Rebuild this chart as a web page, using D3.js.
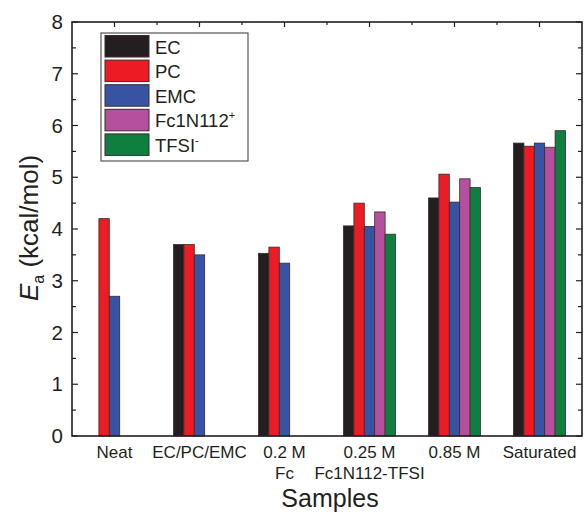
<!DOCTYPE html>
<html>
<head>
<meta charset="utf-8">
<script src="https://cdn.jsdelivr.net/npm/d3@7"></script>
<style>
  body { margin: 0; background: #fff; }
  svg text { font-family: "Liberation Sans", Arial, Helvetica, sans-serif; fill: #231f20; }
</style>
</head>
<body>
<svg width="587" height="512"></svg>
<script>
// sample groups on the x axis (two-line labels)
var samples = ["Neat", "EC/PC/EMC", "0.2 M", "0.25 M", "0.85 M", "Saturated"];
var sampleLines2 = ["", "", "Fc", "Fc1N112-TFSI", "", ""];
var series = ["EC", "PC", "EMC", "Fc1N112", "TFSI"];
var colors = ["#231f20", "#ed1c24", "#3953a4", "#b5509f", "#0f7f40"];

// activation energies, kcal/mol (null = not measured)
var ecVals   = [null, 3.70, 3.53, 4.06, 4.60, 5.66];
var pcVals   = [4.20, 3.70, 3.65, 4.50, 5.06, 5.60];
var emcVals  = [2.70, 3.50, 3.34, 4.05, 4.52, 5.66];
var fcVals   = [null, null, null, 4.33, 4.97, 5.58];
var tfsiVals = [null, null, null, 3.90, 4.80, 5.90];
var yTicks = [0, 1, 2, 3, 4, 5, 6, 7, 8];

var allVals = [ecVals, pcVals, emcVals, fcVals, tfsiVals];

var margin = {left: 72, top: 22, right: 5, bottom: 76};
var width = 587, height = 512;
var svg = d3.select("svg");

var x = d3.scaleBand()
    .domain(samples)
    .range([margin.left, width - margin.right])
    .padding(0);

var x1 = d3.scaleBand()
    .domain(series)
    .range([-26, 26]);

var y = d3.scaleLinear()
    .domain([0, 8])
    .range([height - margin.bottom, margin.top]);

var x0 = margin.left, xR = width - margin.right;
var yB = height - margin.bottom, yT = margin.top;

// bars
var bars = [];
samples.forEach(function(s, i) {
  series.forEach(function(k, j) {
    var v = allVals[j][i];
    if (v != null) bars.push({sample: s, key: k, value: v, color: colors[j]});
  });
});

svg.append("g").selectAll("rect")
  .data(bars)
  .enter()
  .append("rect")
    .attr("x", d => x(d.sample) + x.bandwidth() / 2 + x1(d.key))
    .attr("width", x1.bandwidth())
    .attr("y", d => y(d.value))
    .attr("height", d => y(0) - y(d.value))
    .attr("fill", d => d.color)
    .attr("stroke", "#3a2a2a")
    .attr("stroke-width", 0.8);

// frame
svg.append("rect")
    .attr("x", x0).attr("y", yT)
    .attr("width", xR - x0).attr("height", yB - yT)
    .attr("fill", "none")
    .attr("stroke", "#231f20")
    .attr("stroke-width", 1.6);

// left / right axes, ticks inward
var yMinor = d3.range(0.5, 8, 1);
var tickG = svg.append("g").attr("stroke", "#231f20").attr("stroke-width", 1.2);
yTicks.forEach(function(t) {
  tickG.append("line").attr("x1", x0).attr("x2", x0 + 6).attr("y1", y(t)).attr("y2", y(t));
  tickG.append("line").attr("x1", xR).attr("x2", xR - 6).attr("y1", y(t)).attr("y2", y(t));
});
yMinor.forEach(function(t) {
  tickG.append("line").attr("x1", x0).attr("x2", x0 + 4).attr("y1", y(t)).attr("y2", y(t));
  tickG.append("line").attr("x1", xR).attr("x2", xR - 4).attr("y1", y(t)).attr("y2", y(t));
});
// top axis ticks at group centres and midpoints
samples.forEach(function(s, i) {
  var c = x(s) + x.bandwidth() / 2;
  tickG.append("line").attr("x1", c).attr("x2", c).attr("y1", yT).attr("y2", yT + 5);
  if (i > 0) {
    tickG.append("line").attr("x1", x(s)).attr("x2", x(s)).attr("y1", yT).attr("y2", yT + 3);
  }
});

svg.append("g").selectAll("text")
  .data(yTicks)
  .enter()
  .append("text")
    .attr("x", x0 - 9)
    .attr("y", d => y(d) + 7)
    .attr("text-anchor", "end")
    .attr("font-size", 20.5)
    .text(d => d);

// x tick labels
var xl = svg.append("g").attr("font-size", 17).attr("text-anchor", "middle");
samples.forEach(function(s, i) {
  var c = x(s) + x.bandwidth() / 2;
  xl.append("text").attr("x", c).attr("y", 458).text(s);
  if (sampleLines2[i]) xl.append("text").attr("x", c).attr("y", 479).text(sampleLines2[i]);
});

// axis titles
svg.append("text")
    .attr("x", 330).attr("y", 507)
    .attr("text-anchor", "middle")
    .attr("font-size", 25)
    .text("Samples");

var yl = svg.append("text")
    .attr("transform", "translate(38,228) rotate(-90)")
    .attr("text-anchor", "middle")
    .attr("font-size", 26);
yl.append("tspan").attr("font-style", "italic").text("E");
yl.append("tspan").attr("font-size", 16).attr("dy", 6).text("a");
yl.append("tspan").attr("dy", -6).text(" (kcal/mol)");

// legend
var legLabels = [["EC", ""], ["PC", ""], ["EMC", ""], ["Fc1N112", "+"], ["TFSI", "-"]];
var leg = svg.append("g");
leg.append("rect")
    .attr("x", 101).attr("y", 33)
    .attr("width", 147).attr("height", 128)
    .attr("fill", "#fff")
    .attr("stroke", "#555")
    .attr("stroke-width", 1.2);
series.forEach(function(k, j) {
  var yy = 35.5 + j * 24.6;
  leg.append("rect")
      .attr("x", 105).attr("y", yy)
      .attr("width", 44).attr("height", 21.5)
      .attr("fill", colors[j])
      .attr("stroke", "#3a2a2a")
      .attr("stroke-width", 1);
  var t = leg.append("text")
      .attr("x", 155).attr("y", yy + 18)
      .attr("font-size", 18.5);
  t.append("tspan").text(legLabels[j][0]);
  if (legLabels[j][1]) {
    t.append("tspan").attr("font-size", 11).attr("dy", -8).text(legLabels[j][1]);
  }
});
</script>
</body>
</html>
